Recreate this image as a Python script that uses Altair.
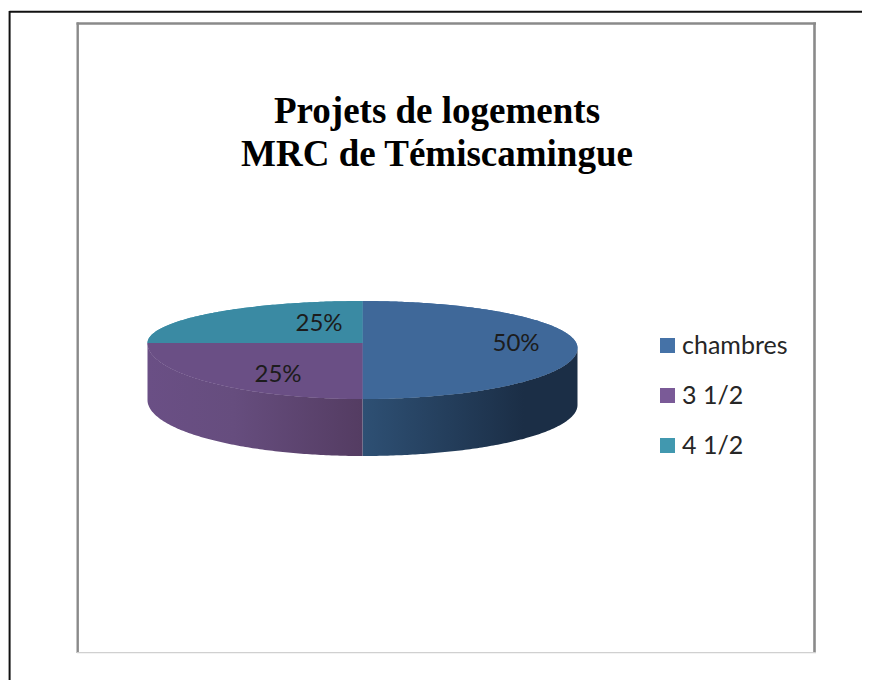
import math
import altair as alt
import pandas as pd

categories = ["chambres", "3 1/2", "4 1/2"]
shares = [0.50, 0.25, 0.25]
title_lines = ["Projets de logements", "MRC de Témiscamingue"]

top_colors = ["#3f6899", "#6a4f85", "#3a8aa3"]
legend_colors = ["#4572a7", "#7a5a97", "#4198af"]
side_stops = {
    "chambres": [(0.0, "#2e5074"), (0.75, "#1b2e46"), (1.0, "#1b2e46")],
    "3 1/2": [(0.0, "#6a4f85"), (0.4, "#664d7e"), (1.0, "#543c62")],
    "4 1/2": [(0.0, "#2f7288"), (1.0, "#2f7288")],
}
label_pos = {"chambres": (516, 336), "3 1/2": (278, 367), "4 1/2": (319, 316)}

W, H = 854, 672
CX, A = 354.5, 215.0          # pie centre and half width, in chart pixels
Y_TOP, Y_BOT, DEPTH = 293.0, 391.0, 57.0
MID = {"right": 340.0, "left": 335.0}  # height of the widest point on each side


def in_slice(x, up, lo, hi):
    ang = math.atan2(abs(x), up) / (2 * math.pi)
    cands = []
    if x >= 0:
        cands.append(ang)
    if x <= 0:
        cands.append(1 - ang)
    return any(lo - 1e-9 <= c <= hi + 1e-9 for c in cands)


xs = [math.sin(-math.pi / 2 + math.pi * i / 240) for i in range(241)]
xs[120] = 0.0
top_rows, side_rows = [], []
start = 0.0
for cat, sh in zip(categories, shares):
    end = start + sh
    for x in xs:
        e = math.sqrt(max(0.0, 1 - x * x))
        mid = MID["right"] if x >= 0 else MID["left"]
        if x == 0.0:
            mid = MID["right"] if start < 0.5 else MID["left"]
        y_up = mid - (mid - Y_TOP) * e
        y_lo = mid + (Y_BOT - mid) * e
        has_up = in_slice(x, e, start, end)
        has_lo = in_slice(x, -e, start, end)
        if has_up or has_lo:
            top_rows.append({"cat": cat, "x": CX + A * x,
                             "y": y_up if has_up else mid,
                             "y2": y_lo if has_lo else mid})
        if has_lo:
            side_rows.append({"cat": cat, "x": CX + A * x, "y": y_lo, "y2": y_lo + DEPTH})
    start = end

top_df = pd.DataFrame(top_rows)
side_df = pd.DataFrame(side_rows)

x_enc = alt.X("x:Q", scale=alt.Scale(domain=[0, W], range=[0, W], nice=False, zero=False), axis=None)
y_enc = alt.Y("y:Q", scale=alt.Scale(domain=[0, H], range=[0, H], nice=False, zero=False), axis=None, stack=None)

layers = []


def frame(color, size, **chan):
    return alt.Chart(alt.Data(values=[{}])).mark_rule(color=color, strokeWidth=size).encode(
        **{k: alt.value(v) for k, v in chan.items()})


layers += [
    frame("#111111", 2, x=1.5, x2=W, y=3.8),
    frame("#111111", 2, x=1.6, y=3, y2=H),
    frame("#8a8a8a", 2.4, x=68.5, x2=808, y=15.5),
    frame("#8a8a8a", 2.4, x=69.7, y=14.5, y2=645),
    frame("#8a8a8a", 2.6, x=806.5, y=14.5, y2=645),
    frame("#d0d0d0", 1.3, x=69, x2=808, y=644.6),
]

layers.append(alt.Chart(top_df).mark_area(interpolate="linear").encode(
    x=x_enc, y=y_enc, y2="y2:Q",
    color=alt.Color("cat:N", sort=categories,
                    scale=alt.Scale(domain=categories, range=legend_colors),
                    legend=alt.Legend(title=None, orient="none", legendX=647, legendY=325,
                                      symbolType="square", symbolSize=225, symbolStrokeWidth=0,
                                      labelFont="Lato", labelFontSize=25, labelColor="#262626",
                                      labelOffset=2, rowPadding=24, labelLimit=200))))

for cat in categories:
    sub = side_df[side_df["cat"] == cat]
    if len(sub) < 2:
        continue
    grad = alt.Gradient(gradient="linear", x1=0, x2=1, y1=0, y2=0,
                        stops=[alt.GradientStop(offset=o, color=c) for o, c in side_stops[cat]])
    layers.append(alt.Chart(sub).mark_area(fill=grad, interpolate="linear").encode(
        x=x_enc, y=y_enc, y2="y2:Q"))

layers.append(alt.Chart(top_df).mark_area(interpolate="linear").encode(
    x=x_enc, y=y_enc, y2="y2:Q",
    fill=alt.Fill("cat:N", sort=categories,
                  scale=alt.Scale(domain=categories, range=top_colors), legend=None)))

for cat, sh in zip(categories, shares):
    lx, ly = label_pos[cat]
    layers.append(alt.Chart(alt.Data(values=[{"v": sh}])).mark_text(
        font="Lato", fontSize=24, color="#1c1c1c", align="center", baseline="middle").encode(
        x=alt.value(lx - 8), y=alt.value(ly), text=alt.Text("v:Q", format=".0%")))

chart = alt.layer(*layers).properties(
    width=W, height=H, padding=0,
    autosize=alt.AutoSizeParams(type="none"),
    background="white",
    title=alt.TitleParams(text=title_lines, font="Liberation Serif", fontSize=37, fontWeight="bold",
                          color="black", anchor="middle", lineHeight=43, dx=2, dy=170),
).configure_view(strokeWidth=0)

chart.save("out.html", embed_options={"renderer": "svg", "actions": False})
